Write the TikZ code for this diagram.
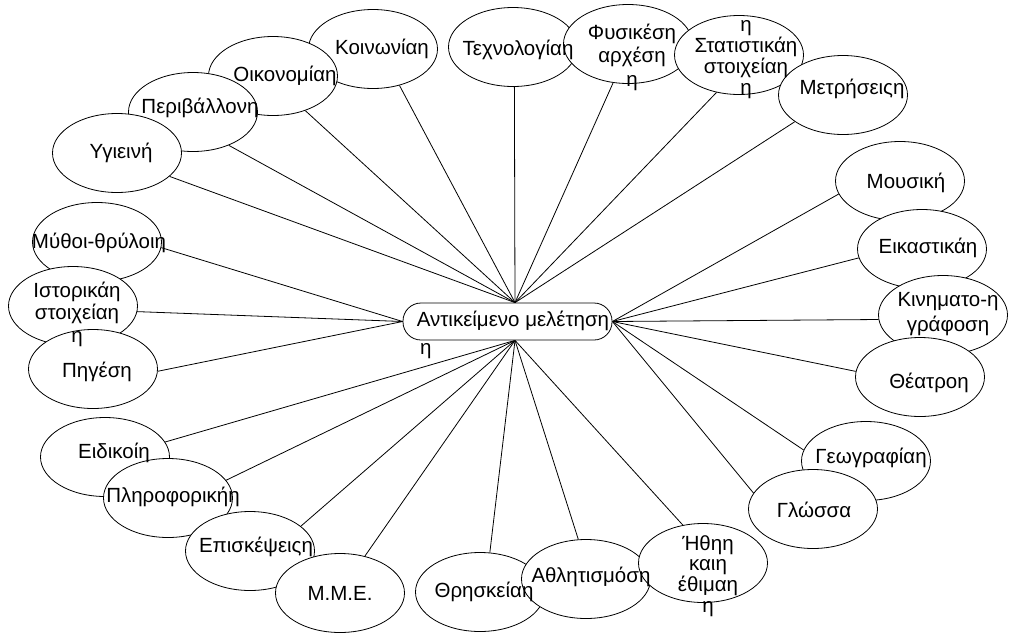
\documentclass[tikz,border=0pt]{standalone}
\usepackage{fontspec}
\setmainfont{Liberation Sans}
\usetikzlibrary{shapes.geometric}
\pgfdeclarelayer{bg}
\pgfsetlayers{bg,main}
\begin{document}
\begin{tikzpicture}[x=1pt,y=-1pt,
  oval/.style={ellipse,draw,fill=white,line width=0.8pt,minimum width=129pt,minimum height=79pt,inner sep=0pt},
  hub/.style={draw,fill=white,rounded corners=18pt,line width=0.8pt,minimum width=209pt,minimum height=37pt,inner sep=0pt},
  lbl/.style={inner sep=0pt,align=center,font=\fontsize{20.5}{22}\selectfont},
  link/.style={line width=0.8pt}]
\useasboundingbox (0,0) rectangle (1012,635);

% centre
\node[hub] (c) at (507.5,321.5) {};
\coordinate (ct) at ([xshift=7.5pt]c.north);
\coordinate (cb) at ([xshift=7.5pt]c.south);
\coordinate (cl) at (c.west);
\coordinate (cr) at (c.east);

% ellipses (drawing order = stacking order)
\node[oval] (koin) at (373,49) {};
\node[oval] (oik) at (273,76) {};
\node[oval] (per) at (193,112) {};
\node[oval] (ygi) at (117,153) {};
\node[oval] (myth) at (97,242) {};
\node[oval] (ist) at (73,306) {};
\node[oval] (pig) at (93,369) {};
\node[oval] (eid) at (105,457) {};
\node[oval] (plir) at (168,498) {};
\node[oval] (epis) at (250,551) {};
\node[oval] (mme) at (340,593) {};
\node[oval] (thr) at (480,592) {};
\node[oval] (athl) at (586,579) {};
\node[oval] (ithi) at (703,563) {};
\node[oval] (geo) at (866,461) {};
\node[oval] (glo) at (813,509) {};
\node[oval] (mous) at (900,181) {};
\node[oval] (eik) at (922,249) {};
\node[oval] (kin) at (943,315) {};
\node[oval] (the) at (920,377) {};
\node[oval] (tech) at (513,47) {};
\node[oval] (fys) at (628,44) {};
\node[oval] (stat) at (739,55) {};
\node[oval] (metr) at (843,95) {};

% connectors
\begin{pgfonlayer}{bg}
\draw[link] (ct) -- (koin.306);
\draw[link] (ct) -- (oik.313);
\draw[link] (ct) -- (per.317);
\draw[link] (ct) -- (ygi.336);
\draw[link] (ct) -- (tech.272);
\draw[link] (ct) -- (fys.249);
\draw[link] (ct) -- (stat.239);
\draw[link] (ct) -- (metr.209.5);
\draw[link] (cl) -- (myth.355.5);
\draw[link] (cl) -- (ist.355);
\draw[link] (cl) -- (pig.358);
\draw[link] (cr) -- (mous.192.7);
\draw[link] (cr) -- (eik.188);
\draw[link] (cr) -- (kin.184.5);
\draw[link] (cr) -- (the.175.6);
\draw[link] (cr) -- (geo.170);
\draw[link] (cr) -- (glo.165);
\draw[link] (cb) -- (ithi.118.9);
\draw[link] (cb) -- (athl.101);
\draw[link] (cb) -- (thr.76);
\draw[link] (cb) -- (mme.56.7);
\draw[link] (cb) -- (epis.26);
\draw[link] (cb) -- (plir.17.8);
\draw[link] (cb) -- (eid.14.5);
\end{pgfonlayer}

% texts
\node[lbl] (c-t) at (513,321) {Αντικείμενο μελέτηση};
\node[lbl,anchor=base west] (c-t2) at (420,354) {η};
\node[lbl] (koin-t) at (382,49) {Κοινωνίαη};
\node[lbl] (oik-t) at (285,76) {Οικονομίαη};
\node[lbl] (per-t) at (200,108) {Περιβάλλονη};
\node[lbl] (ygi-t) at (121,153) {Υγιεινή};
\node[lbl] (tech-t) at (518,50) {Τεχνολογίαη};
\node[lbl,font=\fontsize{20.5}{23.5}\selectfont] (fys-t) at (632,57) {Φυσικέση\\αρχέση\\η};
\node[lbl,font=\fontsize{20.5}{21}\selectfont] (stat-t) at (746,60) {η\\Στατιστικάη\\στοιχείαη\\η};
\node[lbl] (metr-t) at (852,89) {Μετρήσειςη};
\node[lbl] (mous-t) at (906,183) {Μουσική};
\node[lbl] (eik-t) at (928,248) {Εικαστικάη};
\node[lbl,font=\fontsize{20.5}{25}\selectfont] (kin-t) at (948,314) {Κινηματο-η\\γράφοση};
\node[lbl] (the-t) at (929,383) {Θέατροη};
\node[lbl] (geo-t) at (871,458) {Γεωγραφίαη};
\node[lbl] (glo-t) at (814,510) {Γλώσσα};
\node[lbl,font=\fontsize{20.5}{20.7}\selectfont] (ithi-t) at (708,576) {Ήθηη\\καιη\\έθιμαη\\η};
\node[lbl] (athl-t) at (591,577) {Αθλητισμόση};
\node[lbl] (thr-t) at (484,592) {Θρησκείαη};
\node[lbl] (mme-t) at (340,593) {Μ.Μ.Ε.};
\node[lbl] (epis-t) at (256,547) {Επισκέψειςη};
\node[lbl] (plir-t) at (173,497) {Πληροφορικήη};
\node[lbl] (eid-t) at (114,453) {Ειδικοίη};
\node[lbl] (pig-t) at (97,372) {Πηγέση};
\node[lbl,font=\fontsize{20.5}{22.5}\selectfont] (ist-t) at (77,314) {Ιστορικάη\\στοιχείαη\\η};
\node[lbl] (myth-t) at (99,243) {Μύθοι-θρύλοιη};
\end{tikzpicture}
\end{document}
